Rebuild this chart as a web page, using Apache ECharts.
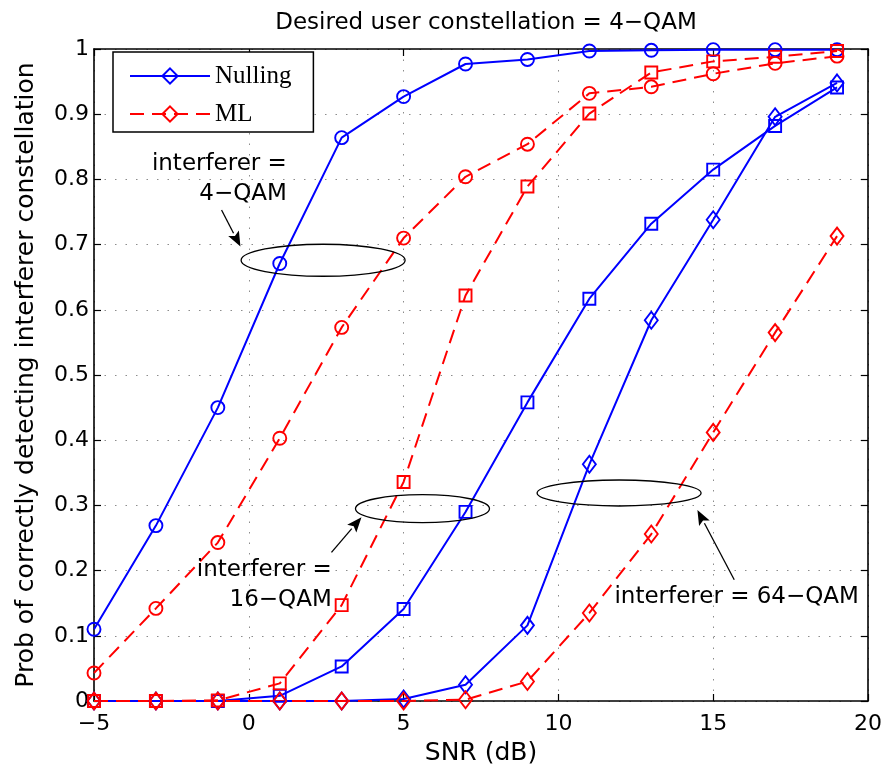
<!DOCTYPE html>
<html>
<head>
<meta charset="utf-8">
<script src="https://cdn.jsdelivr.net/npm/echarts@6/dist/echarts.min.js"></script>
<style>
  html, body { margin: 0; padding: 0; background: #fff; }
  #chart { width: 886px; height: 776px; }
</style>
</head>
<body>
<div id="chart"></div>
<script>
// SNR points (dB)
const snr = [-5, -3, -1, 1, 3, 5, 7, 9, 11, 13, 15, 17, 19]

// Nulling receiver
const nulling4 = [0.110, 0.269, 0.450, 0.671, 0.864, 0.927, 0.977, 0.984, 0.997, 0.998, 0.999, 0.999, 0.999]
const nulling16 = [0, 0, 0, 0.008, 0.053, 0.141, 0.290, 0.458, 0.617, 0.732, 0.815, 0.882, 0.941]
const nulling64 = [0, 0, 0, 0, 0, 0.003, 0.025, 0.116, 0.363, 0.584, 0.738, 0.896, 0.948]

// ML receiver
const ml4 = [0.043, 0.142, 0.243, 0.403, 0.573, 0.710, 0.804, 0.854, 0.932, 0.942, 0.962, 0.978, 0.989]
const ml16 = [0, 0, 0.001, 0.027, 0.147, 0.336, 0.622, 0.789, 0.901, 0.964, 0.981, 0.988, 0.997]
const ml64 = [0, 0, 0, 0, 0, 0, 0.002, 0.030, 0.135, 0.256, 0.412, 0.565, 0.713]

// annotations, in data coordinates
const noteEllipses = [[2.40, 0.676], [5.61, 0.295], [11.96, 0.319]]
const noteArrows = [
  [[-0.88, 0.753], [-0.27, 0.697]],
  [[2.67, 0.228], [3.64, 0.282]],
  [[15.68, 0.186], [14.49, 0.293]]
]
const noteTexts = [
  ['interferer =\n4−QAM', [1.23, 0.80]],
  ['interferer =\n16−QAM', [2.68, 0.178]],
  ['interferer = 64−QAM', [11.81, 0.160]]
]

const BLUE = '#0000ff'
const RED = '#ff0000'
const FONT = 'DejaVu Sans'

function pairs(ys) {
  return snr.map((x, i) => [x, ys[i]])
}

function makeSeries(name, ys, color, symbol, size, dashed) {
  return {
    name: name,
    type: 'line',
    data: pairs(ys),
    symbol: symbol,
    symbolSize: size,
    showAllSymbol: true,
    lineStyle: { color: color, width: 2, type: dashed ? [14, 8] : 'solid' },
    itemStyle: { color: 'rgba(0,0,0,0)', borderColor: color, borderWidth: 1.9 },
    emphasis: { disabled: true },
    animation: false
  }
}

const chart = echarts.init(document.getElementById('chart'))

const tickStyle = { show: true, inside: true, length: 7, lineStyle: { color: '#000', width: 1.2 } }
const boxLine = { show: true, onZero: false, lineStyle: { color: '#000', width: 1.6 } }
const gridLine = { show: true, lineStyle: { color: '#8c8c8c', width: 1, type: [1.5, 9] } }

chart.setOption({
  backgroundColor: '#fff',
  animation: false,
  title: {
    text: 'Desired user constellation = 4−QAM',
    left: 481,
    top: 7,
    textAlign: 'center',
    textStyle: { fontFamily: FONT, fontSize: 23, fontWeight: 'normal', color: '#000' }
  },
  grid: {
    left: 94,
    right: 18,
    top: 49,
    bottom: 75,
    containLabel: false,
    outerBoundsMode: 'none'
  },
  legend: {
    data: ['Nulling', 'ML'],
    orient: 'vertical',
    left: 113,
    top: 52,
    padding: [11, 22, 5, 16],
    itemGap: 12,
    itemWidth: 80,
    itemHeight: 19,
    borderColor: '#000',
    borderWidth: 1.5,
    backgroundColor: '#fff',
    selectedMode: false,
    textStyle: { fontFamily: 'Liberation Serif', fontSize: 25, color: '#000', lineHeight: 26 }
  },
  xAxis: [
    {
      type: 'value',
      min: -5,
      max: 20,
      interval: 5,
      name: 'SNR (dB)',
      nameLocation: 'middle',
      nameGap: 40,
      nameTextStyle: { fontFamily: FONT, fontSize: 25, color: '#000' },
      axisLine: boxLine,
      axisTick: tickStyle,
      axisLabel: {
        margin: 12,
        fontFamily: FONT,
        fontSize: 22,
        color: '#000',
        formatter: v => (v < 0 ? '−' + Math.abs(v) : String(v))
      },
      splitLine: gridLine
    },
    {
      type: 'value',
      position: 'top',
      min: -5,
      max: 20,
      interval: 5,
      axisLine: boxLine,
      axisTick: tickStyle,
      axisLabel: { show: false },
      splitLine: { show: false }
    }
  ],
  yAxis: [
    {
      type: 'value',
      min: 0,
      max: 1,
      interval: 0.1,
      name: 'Prob of correctly detecting interferer constellation',
      nameLocation: 'middle',
      nameGap: 55,
      nameTextStyle: { fontFamily: FONT, fontSize: 25, color: '#000' },
      axisLine: boxLine,
      axisTick: tickStyle,
      axisLabel: { margin: 5, fontFamily: FONT, fontSize: 22, color: '#000' },
      splitLine: gridLine
    },
    {
      type: 'value',
      position: 'right',
      min: 0,
      max: 1,
      interval: 0.1,
      axisLine: boxLine,
      axisTick: tickStyle,
      axisLabel: { show: false },
      splitLine: { show: false }
    }
  ],
  series: [
    makeSeries('Nulling', nulling64, BLUE, 'diamond', [13, 17], false),
    makeSeries('Nulling', nulling16, BLUE, 'rect', 12, false),
    makeSeries('Nulling', nulling4, BLUE, 'circle', 13, false),
    makeSeries('ML', ml64, RED, 'diamond', [13, 17], true),
    makeSeries('ML', ml16, RED, 'rect', 12, true),
    makeSeries('ML', ml4, RED, 'circle', 13, true)
  ]
})

// annotations: ellipses, arrows and labels placed through the axes
const toPx = p => chart.convertToPixel({ gridIndex: 0 }, p)
const ellipseSize = [[82, 16], [67, 14], [82, 13]]
const graphics = []

noteEllipses.forEach((c, i) => {
  const p = toPx(c)
  graphics.push({
    type: 'ellipse',
    shape: { cx: p[0], cy: p[1], rx: ellipseSize[i][0], ry: ellipseSize[i][1] },
    style: { fill: 'none', stroke: '#000', lineWidth: 1.3 },
    z: 100
  })
})

noteArrows.forEach(a => {
  const s = toPx(a[0])
  const t = toPx(a[1])
  const dx = t[0] - s[0]
  const dy = t[1] - s[1]
  const len = Math.sqrt(dx * dx + dy * dy)
  const ux = dx / len
  const uy = dy / len
  const headLen = 15
  const headW = 6
  const bx = t[0] - ux * headLen
  const by = t[1] - uy * headLen
  graphics.push({
    type: 'line',
    shape: { x1: s[0], y1: s[1], x2: bx, y2: by },
    style: { stroke: '#000', lineWidth: 1.3 },
    z: 100
  })
  graphics.push({
    type: 'polygon',
    shape: {
      points: [
        [t[0], t[1]],
        [bx - uy * headW, by + ux * headW],
        [bx + ux * 3, by + uy * 3],
        [bx + uy * headW, by - ux * headW]
      ]
    },
    style: { fill: '#000' },
    z: 100
  })
})

noteTexts.forEach((n, i) => {
  const p = toPx(n[1])
  graphics.push({
    type: 'text',
    x: p[0],
    y: p[1],
    style: {
      text: n[0],
      font: '23px "DejaVu Sans"',
      fill: '#000',
      align: i === 2 ? 'left' : 'right',
      verticalAlign: 'middle',
      lineHeight: 30
    },
    z: 100
  })
})

chart.setOption({ graphic: graphics })
</script>
</body>
</html>
